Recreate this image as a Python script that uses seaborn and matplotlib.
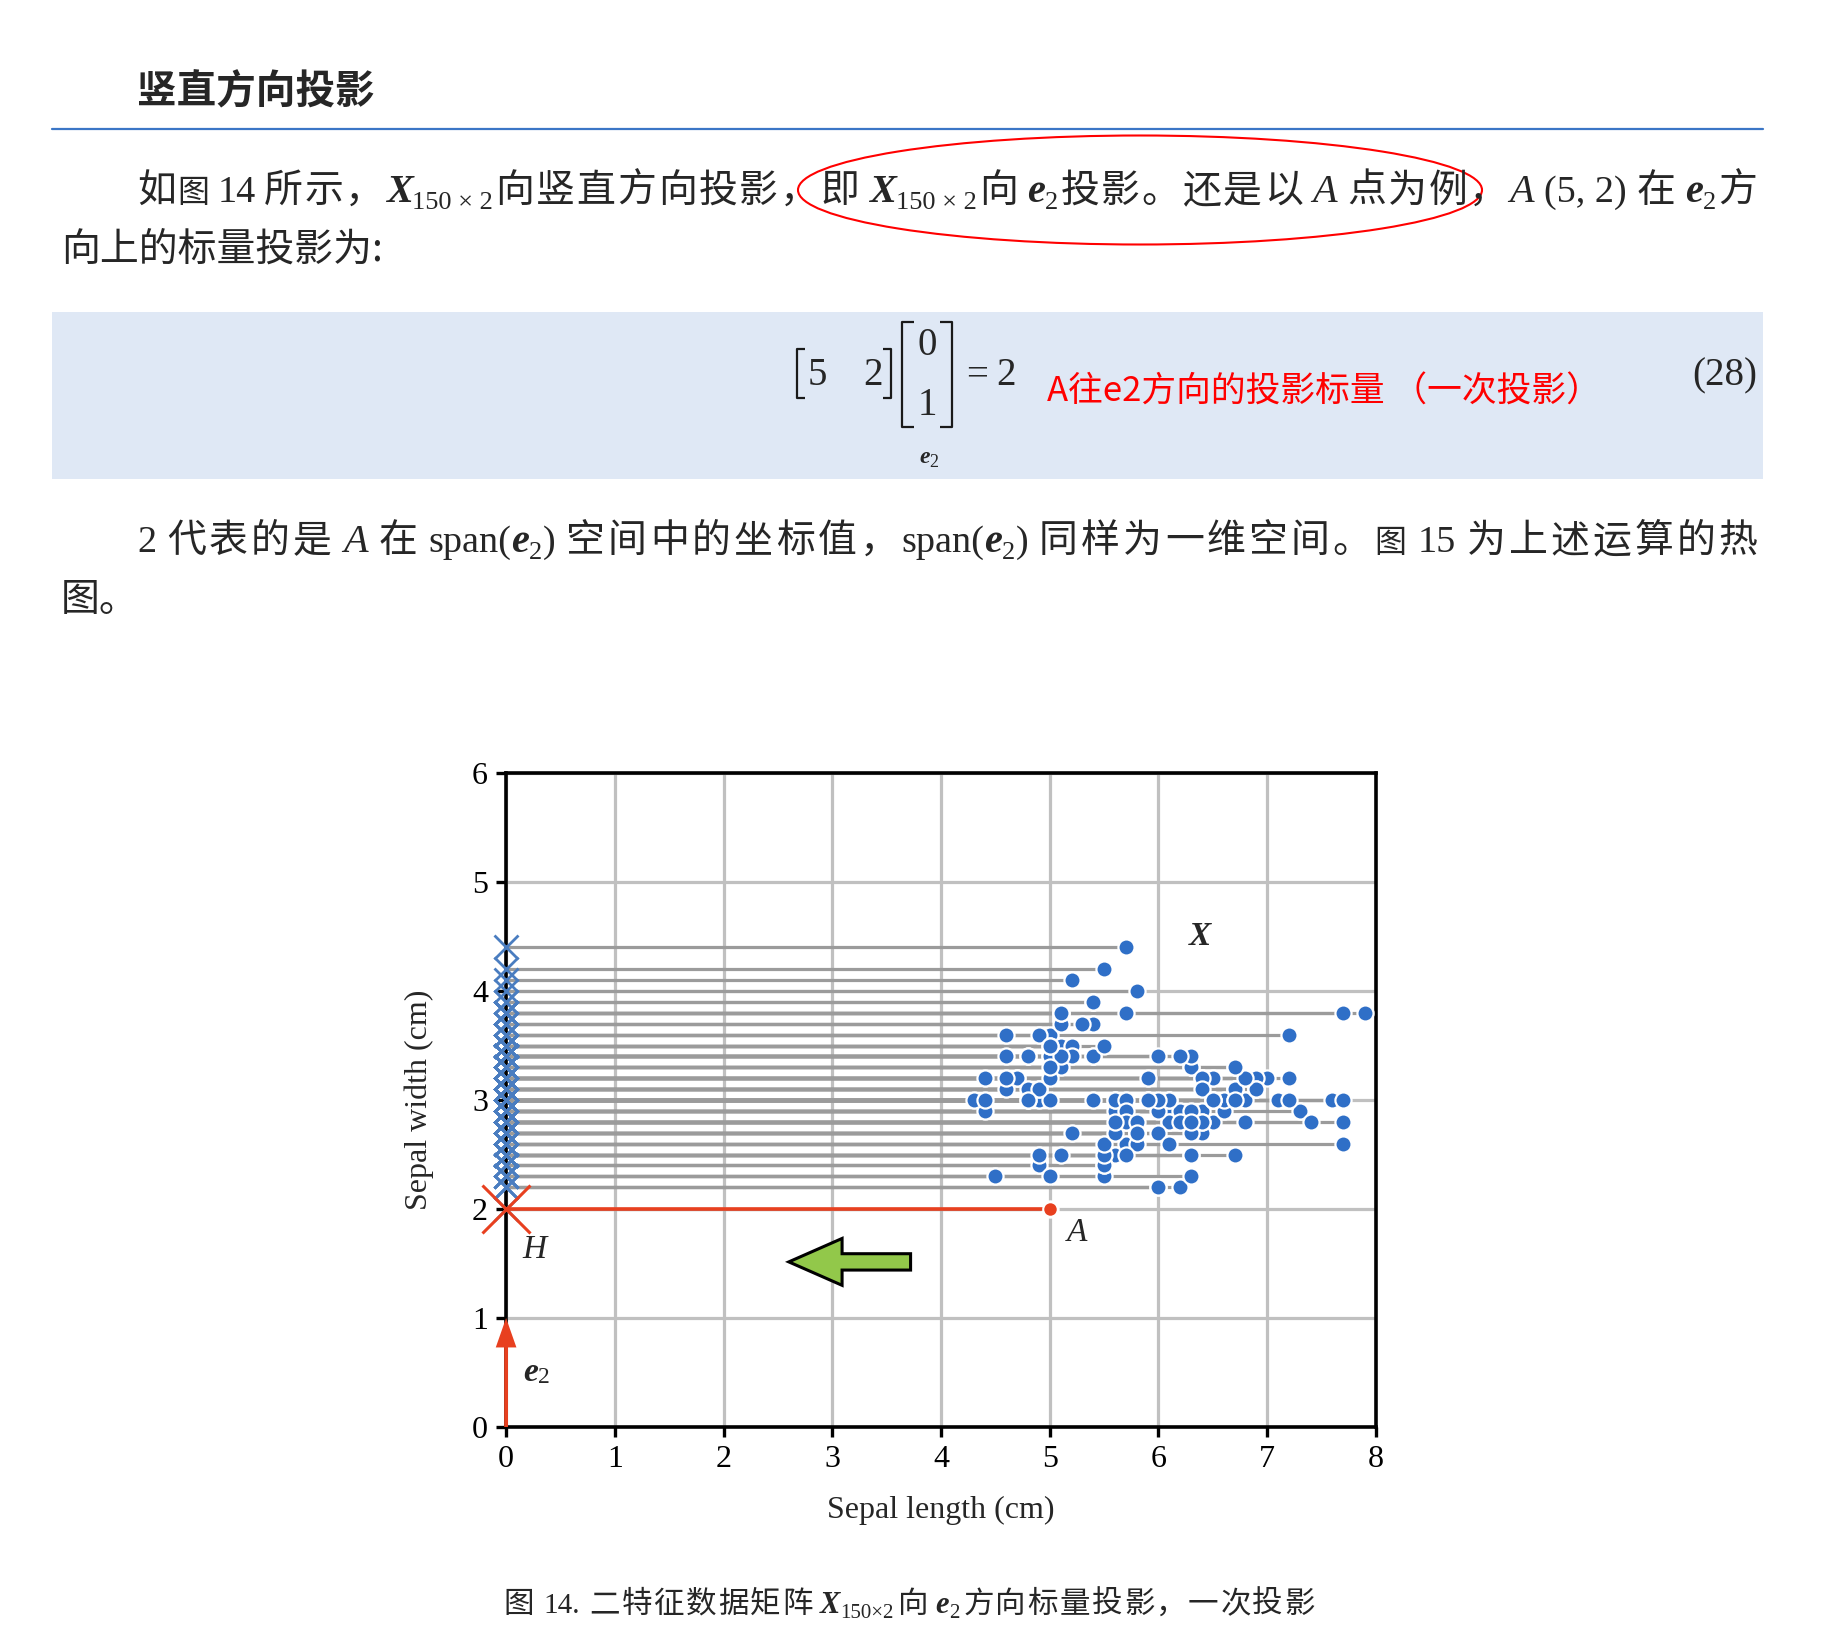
import matplotlib
matplotlib.use("Agg")
import matplotlib.pyplot as plt
from matplotlib.patches import Ellipse, Rectangle
import seaborn as sns
import numpy as np

# iris: sepal length / sepal width (cm), 150 samples
sepal_length = [
    5.1, 4.9, 4.7, 4.6, 5.0, 5.4, 4.6, 5.0, 4.4, 4.9, 5.4, 4.8, 4.8, 4.3, 5.8,
    5.7, 5.4, 5.1, 5.7, 5.1, 5.4, 5.1, 4.6, 5.1, 4.8, 5.0, 5.0, 5.2, 5.2, 4.7,
    4.8, 5.4, 5.2, 5.5, 4.9, 5.0, 5.5, 4.9, 4.4, 5.1, 5.0, 4.5, 4.4, 5.0, 5.1,
    4.8, 5.1, 4.6, 5.3, 5.0,
    7.0, 6.4, 6.9, 5.5, 6.5, 5.7, 6.3, 4.9, 6.6, 5.2, 5.0, 5.9, 6.0, 6.1, 5.6,
    6.7, 5.6, 5.8, 6.2, 5.6, 5.9, 6.1, 6.3, 6.1, 6.4, 6.6, 6.8, 6.7, 6.0, 5.7,
    5.5, 5.5, 5.8, 6.0, 5.4, 6.0, 6.7, 6.3, 5.6, 5.5, 5.5, 6.1, 5.8, 5.0, 5.6,
    5.7, 5.7, 6.2, 5.1, 5.7,
    6.3, 5.8, 7.1, 6.3, 6.5, 7.6, 4.9, 7.3, 6.7, 7.2, 6.5, 6.4, 6.8, 5.7, 5.8,
    6.4, 6.5, 7.7, 7.7, 6.0, 6.9, 5.6, 7.7, 6.3, 6.7, 7.2, 6.2, 6.1, 6.4, 7.2,
    7.4, 7.9, 6.4, 6.3, 6.1, 7.7, 6.3, 6.4, 6.0, 6.9, 6.7, 6.9, 5.8, 6.8, 6.7,
    6.7, 6.3, 6.5, 6.2, 5.9,
]
sepal_width = [
    3.5, 3.0, 3.2, 3.1, 3.6, 3.9, 3.4, 3.4, 2.9, 3.1, 3.7, 3.4, 3.0, 3.0, 4.0,
    4.4, 3.9, 3.5, 3.8, 3.8, 3.4, 3.7, 3.6, 3.3, 3.4, 3.0, 3.4, 3.5, 3.4, 3.2,
    3.1, 3.4, 4.1, 4.2, 3.1, 3.2, 3.5, 3.6, 3.0, 3.4, 3.5, 2.3, 3.2, 3.5, 3.8,
    3.0, 3.8, 3.2, 3.7, 3.3,
    3.2, 3.2, 3.1, 2.3, 2.8, 2.8, 3.3, 2.4, 2.9, 2.7, 2.0, 3.0, 2.2, 2.9, 2.9,
    3.1, 3.0, 2.7, 2.2, 2.5, 3.2, 2.8, 2.5, 2.8, 2.9, 3.0, 2.8, 3.0, 2.9, 2.6,
    2.4, 2.4, 2.7, 2.7, 3.0, 3.4, 3.1, 2.3, 3.0, 2.5, 2.6, 3.0, 2.6, 2.3, 2.7,
    3.0, 2.9, 2.9, 2.5, 2.8,
    3.3, 2.7, 3.0, 2.9, 3.0, 3.0, 2.5, 2.9, 2.5, 3.6, 3.2, 2.7, 3.0, 2.5, 2.8,
    3.2, 3.0, 3.8, 2.6, 2.2, 3.2, 2.8, 2.8, 2.7, 3.3, 3.2, 2.8, 3.0, 2.8, 3.0,
    2.8, 3.8, 2.8, 2.8, 2.6, 3.0, 3.4, 3.1, 3.0, 3.1, 3.1, 3.1, 2.7, 3.2, 3.3,
    3.0, 2.5, 3.0, 3.4, 3.0,
]
point_a = (5.0, 2.0)

x_ticks = list(range(0, 9))
y_ticks = list(range(0, 7))

BLUE = "#2f6fc7"
BLUE_X = "#4a7dc0"
RED = "#e8401f"
GREEN = "#92c84a"

sns.set_style("white")
CJK = ["Noto Sans CJK SC", "DejaVu Sans"]
SERIF = ["Liberation Serif", "DejaVu Serif"]
plt.rcParams["font.family"] = SERIF

fig = plt.figure(figsize=(18.41, 16.48), dpi=100)

# page layer in pixel coordinates (y downwards)
page = fig.add_axes([0, 0, 1, 1])
page.set_xlim(0, 1841)
page.set_ylim(1648, 0)
page.axis("off")

STY = {
    "cjk": dict(family=CJK, size=28),
    "cjk_s": dict(family=CJK, size=23),
    "rm": dict(family=SERIF, size=27.5),
    "it": dict(family=SERIF, size=29, style="italic"),
    "bi": dict(family=SERIF, size=29, style="italic", weight="bold"),
    "sub": dict(family=SERIF, size=19, dy=7),
    "c_cjk": dict(family=CJK, size=22),
    "c_rm": dict(family=SERIF, size=21),
    "c_bi": dict(family=SERIF, size=22, style="italic", weight="bold"),
    "c_sub": dict(family=SERIF, size=15, dy=5),
}

renderer = fig.canvas.get_renderer()


def put_line(x0, base, runs, width=None):
    # split CJK runs into single characters when justifying, like a word processor
    expanded = []
    for r in runs:
        s, st = r[0], r[1]
        gap = r[2] if len(r) > 2 else 0
        if width is not None and "cjk" in st and len(s) > 1:
            for k, ch in enumerate(s):
                expanded.append((ch, st, gap if k == 0 else 0))
        else:
            expanded.append((s, st, gap))
    items = []
    for s, st, gap in expanded:
        kw = dict(STY[st])
        dy = kw.pop("dy", 0)
        t = page.text(x0, base + dy, s, ha="left", va="baseline", **kw)
        glue = st.endswith("sub") or gap is None
        items.append((t, gap or 0, glue))
    ws = [t.get_window_extent(renderer).width for t, _, _ in items]
    n_gaps = sum(1 for i, it in enumerate(items) if i > 0 and not it[2])
    extra = 0
    if width is not None and n_gaps:
        extra = (width - sum(ws) - sum(g for _, g, _ in items)) / n_gaps
    x = x0
    for i, (t, gap, glue) in enumerate(items):
        if i > 0:
            x += gap + (0 if glue else extra)
        t.set_x(x)
        x += ws[i]


# heading + rule
page.text(137, 103, "竖直方向投影", family=CJK, size=28.5, weight="bold",
          ha="left", va="baseline")
page.plot([52, 1763], [129, 129], color="#3b76c6", lw=1.6)

put_line(137, 202, [
    ("如", "cjk"), ("图", "cjk_s"), ("14", "rm", 6), ("所示，", "cjk", 6),
    ("X", "bi"), ("150 × 2", "sub"), ("向竖直方向投影，", "cjk"), ("即", "cjk"),
    ("X", "bi", 8), ("150 × 2", "sub"), ("向", "cjk"), ("e", "bi", 8),
    ("2", "sub"), ("投影。还是以", "cjk"), ("A", "it", 8), ("点为例，", "cjk", 8),
    ("A", "it"), ("(5, 2)", "rm", 8), ("在", "cjk", 8), ("e", "bi", 8),
    ("2", "sub"), ("方", "cjk"),
], width=1620)
put_line(61, 261, [("向上的标量投影为:", "cjk")])

page.add_patch(Ellipse((1140, 190), 684, 109, fill=False, ec="red", lw=1.5))

# equation box
page.add_patch(Rectangle((52, 312), 1711, 167, fc="#dfe8f5", ec="none", zorder=0))
bk = dict(color="#1a1a1a", lw=1.6, solid_capstyle="butt")
page.plot([805, 797, 797, 805], [349, 349, 398, 398], **bk)
page.plot([883, 891, 891, 883], [349, 349, 398, 398], **bk)
page.plot([914, 902, 902, 914], [322, 322, 427, 427], **bk)
page.plot([940, 952, 952, 940], [322, 322, 427, 427], **bk)
eq = dict(family=SERIF, size=28, va="baseline", ha="center")
page.text(817, 385, "5", **eq)
page.text(873, 385, "2", **eq)
page.text(927, 355, "0", **eq)
page.text(927, 415, "1", **eq)
page.text(977, 385, "=", **eq)
page.text(1006, 385, "2", **eq)
page.text(919, 463, "e", family=SERIF, size=17, style="italic", weight="bold",
          ha="left", va="baseline")
page.text(929, 467, "2", family=SERIF, size=13, ha="left", va="baseline")
page.text(1047, 402, "A往e2方向的投影标量 （一次投影）", family=CJK, size=25,
          color="red", ha="left", va="baseline")
page.text(1757, 385, "(28)", family=SERIF, size=28, ha="right", va="baseline")

put_line(137, 552, [
    ("2", "rm"), ("代表的是", "cjk", 8), ("A", "it", 8), ("在", "cjk", 8),
    ("span(", "rm", 8), ("e", "bi", None), ("2", "sub"), (")", "rm", None),
    ("空间中的坐标值，", "cjk", 8), ("span(", "rm"), ("e", "bi", None),
    ("2", "sub"), (")", "rm", None), ("同样为一维空间。", "cjk", 8),
    ("图", "cjk_s"), ("15", "rm", 8), ("为上述运算的热", "cjk", 8),
], width=1620)
put_line(61, 611, [("图。", "cjk")])

put_line(503, 1613, [
    ("图", "c_cjk"), ("14.", "c_rm", 8), ("二特征数据矩阵", "c_cjk", 8),
    ("X", "c_bi", 6), ("150×2", "c_sub"), ("向", "c_cjk", 2), ("e", "c_bi", 6),
    ("2", "c_sub"), ("方向标量投影，一次投影", "c_cjk", 2),
], width=812)

# chart
ax = fig.add_axes([0.2749, 0.1341, 0.4725, 0.3968])
ax.set_xlim(0, 8)
ax.set_ylim(0, 6)
ax.set_xticks(x_ticks)
ax.set_yticks(y_ticks)
ax.grid(True, color="#c0c0c0", lw=2.3)
ax.set_axisbelow(True)
for sp in ax.spines.values():
    sp.set_visible(True)
    sp.set_color("black")
    sp.set_linewidth(2.6)
ax.tick_params(direction="out", length=7, width=2.4, pad=6, labelsize=23,
               bottom=True, left=True, colors="black")

ax.hlines(sepal_width, 0, sepal_length, colors="#9b9b9b", lw=2.3, zorder=2)
sns.scatterplot(x=sepal_length, y=sepal_width, ax=ax, s=135, color=BLUE,
                edgecolor="white", linewidth=1.6, zorder=4, legend=False)
ax.plot(np.zeros(len(sepal_width)), sepal_width, ls="none", marker="x",
        ms=17, mew=2, color=BLUE_X, zorder=5, clip_on=False)

ax.hlines(point_a[1], 0, point_a[0], colors=RED, lw=2.6, zorder=5)
ax.scatter([point_a[0]], [point_a[1]], s=110, color=RED, edgecolor="white",
           linewidth=1.5, zorder=6)
ax.plot([0], [point_a[1]], ls="none", marker="x", ms=34, mew=2.2, color=RED,
        zorder=6, clip_on=False)

ax.arrow(0, 0, 0, 1, width=0.035, head_width=0.19, head_length=0.27,
         length_includes_head=True, fc=RED, ec="none", zorder=6, clip_on=False)
ax.arrow(3.72, 1.515, -1.12, 0, width=0.15, head_width=0.43, head_length=0.49,
         length_includes_head=True, fc=GREEN, ec="black", lw=2.2, zorder=6)

ax.text(6.38, 4.5, "X", size=24, style="italic", weight="bold",
        ha="center", va="center")
ax.text(5.25, 1.78, "A", size=24, style="italic", ha="center", va="center")
ax.text(0.26, 1.63, "H", size=24, style="italic", ha="center", va="center")
ax.text(0.16, 0.50, "e", size=24, style="italic", weight="bold",
        ha="left", va="center")
ax.text(0.29, 0.45, "2", size=17, ha="left", va="center")

ax.set_xlabel("Sepal length (cm)", fontsize=23)
ax.set_ylabel("Sepal width (cm)", fontsize=23)
ax.xaxis.label.set_va("center")
ax.yaxis.label.set_va("center")
ax.xaxis.set_label_coords(0.5, -0.128)
ax.yaxis.set_label_coords(-0.100, 0.5)

fig.savefig("out.png", dpi=100)
